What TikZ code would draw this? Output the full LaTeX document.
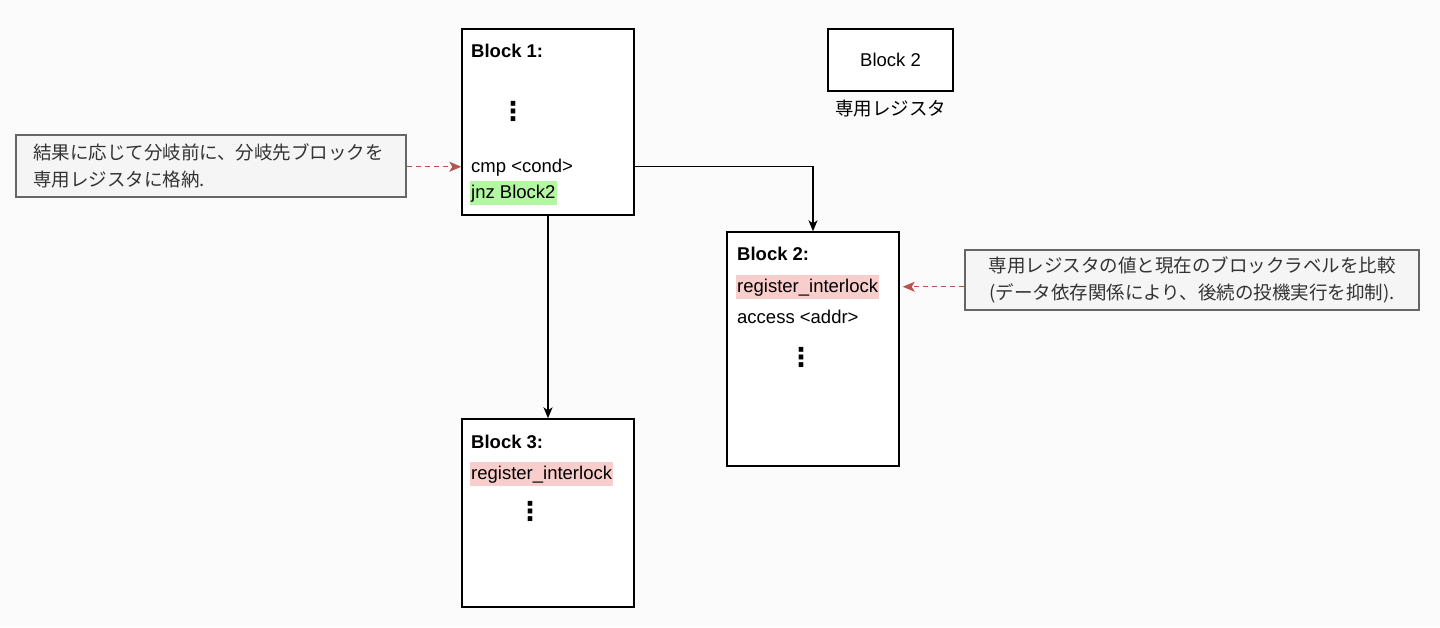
\documentclass[tikz,border=0pt]{standalone}
\usepackage{fontspec}
\setmainfont{Liberation Sans}
\newfontfamily\jpfont{Noto Sans CJK JP}
\newfontfamily\symfont{DejaVu Sans}
\usetikzlibrary{arrows.meta,positioning}
\definecolor{bgpaper}{RGB}{251,251,251}
\definecolor{notefill}{RGB}{245,245,245}
\definecolor{noteline}{RGB}{102,102,102}
\definecolor{notetext}{RGB}{51,51,51}
\definecolor{linkred}{RGB}{184,84,80}
\definecolor{hlgreen}{RGB}{180,247,162}
\definecolor{hlpink}{RGB}{248,206,204}

\begin{document}
\begin{tikzpicture}[x=1pt, y=-1pt,
    block/.style={draw, line width=1.4pt, fill=white, inner sep=0pt},
    code/.style={font=\fontsize{18.5}{22}\selectfont, inner xsep=1pt, inner ysep=2.5pt, text height=14.5pt, text depth=4pt},
    dots/.style={font=\symfont\bfseries\fontsize{26}{28}\selectfont, inner sep=0pt},
    note/.style={draw=noteline, line width=1.1pt, fill=notefill, text=notetext, font=\jpfont\fontsize{18.5}{26.5}\selectfont, inner ysep=0pt},
    flow/.style={-{Stealth[length=11pt, width=9pt, inset=3pt]}, line width=1.4pt},
    hint/.style={-{Stealth[length=12pt, width=10pt, inset=3pt]}, line width=1.2pt, draw=linkred, dash pattern=on 5pt off 4pt},
]
\useasboundingbox[fill=bgpaper] (0,0) rectangle (1440,627);

% blocks
\node[block, minimum width=172pt, minimum height=186pt] (b1) at (548,122) {};
\node[block, minimum width=172pt, minimum height=234pt] (b2) at (813,349) {};
\node[block, minimum width=172pt, minimum height=188pt] (b3) at (548,513) {};
\node[block, minimum width=125pt, minimum height=62pt, font=\fontsize{18.5}{22}\selectfont] (reg) at (890.5,60) {Block 2};
\node[font=\jpfont\fontsize{18.5}{22}\selectfont, inner sep=0pt, below=8pt of reg] (reglabel) {専用レジスタ};

% contents of block 1
\node[code, anchor=base west] (b1head) at (470,57) {\bfseries Block 1:};
\node[dots] (b1dots) at (513,111) {⋮};
\node[code, anchor=base west] (b1cmp) at (470,172) {cmp <cond>};
\node[code, fill=hlgreen, anchor=base west] (b1jnz) at (470,198) {jnz Block2};

% contents of block 2
\node[code, anchor=base west] (b2head) at (736,260) {\bfseries Block 2:};
\node[code, fill=hlpink, anchor=base west] (b2reg) at (736,292) {register\_interlock};
\node[code, anchor=base west] (b2acc) at (736,323) {access <addr>};
\node[dots] (b2dots) at (801,357) {⋮};

% contents of block 3
\node[code, anchor=base west] (b3head) at (470,448) {\bfseries Block 3:};
\node[code, fill=hlpink, anchor=base west] (b3reg) at (470,479) {register\_interlock};
\node[dots] (b3dots) at (530,511) {⋮};

% notes
\node[note, align=left, text width=356pt, inner xsep=17pt, minimum height=62pt] (n1) at (211,166)
    {結果に応じて分岐前に、分岐先ブロックを\\専用レジスタに格納.};
\node[note, align=center, minimum width=454pt, minimum height=60pt] (n2) at (1192,280)
    {専用レジスタの値と現在のブロックラベルを比較\\(データ依存関係により、後続の投機実行を抑制).};

% connectors
\draw[flow] (b1.east |- b1cmp) -| (b2.north);
\draw[flow] (b1.south) -- (b3.north);
\draw[hint] (n1.east |- b1cmp) -- (b1.west |- b1cmp);
\draw[hint] (n2.west |- b2reg) -- ([xshift=3pt]b2.east |- b2reg);
\end{tikzpicture}
\end{document}
